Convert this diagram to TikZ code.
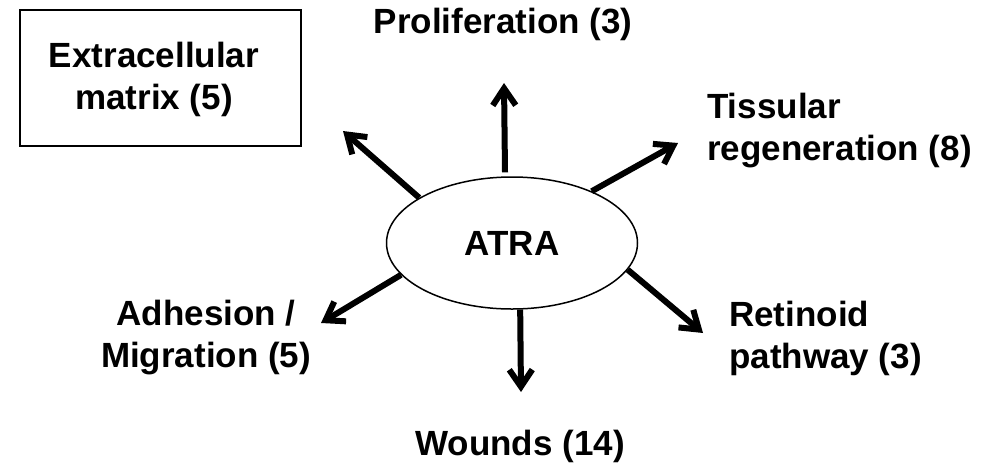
\documentclass[tikz,border=0pt]{standalone}
\usepackage{fontspec}
\setmainfont{Liberation Sans}
\usetikzlibrary{arrows.meta,shapes.geometric}

\tikzset{
  lbl/.style={font=\bfseries\fontsize{35}{42}\selectfont,inner sep=0pt},
  arr/.style={line width=6pt,-{Straight Barb[length=17pt,width=23pt]}}
}

\begin{document}
\begin{tikzpicture}[x=1pt,y=-1pt]
  \useasboundingbox (0,0) rectangle (990,464);
  % centre
  \node[lbl,draw,ellipse,line width=1.5pt,minimum width=251pt,minimum height=132pt] (atra) at (512,243) {ATRA};
  % labels
  \node[draw,line width=2pt,minimum width=281pt,minimum height=136pt] (ecm) at (160.5,78) {};
  \node[lbl,anchor=north,align=center] (ecmtxt) at (154,42) {Extracellular\\matrix (5)};
  \node[lbl,anchor=base] (prolif) at (503,33) {Proliferation (3)};
  \node[lbl,anchor=north west,align=left] (tissue) at (707,93) {Tissular\\regeneration (8)};
  \node[lbl,anchor=north,align=center] (adhes) at (206,300) {Adhesion /\\Migration (5)};
  \node[lbl,anchor=north west,align=left] (retin) at (729,301) {Retinoid\\pathway (3)};
  \node[lbl,anchor=base] (wound) at (520,455) {Wounds (14)};
  % arrow tips
  \coordinate (tUp) at (504,83);
  \coordinate (tUL) at (343,131);
  \coordinate (tUR) at (678,143);
  \coordinate (tLL) at (321,323);
  \coordinate (tLR) at (703,333);
  \coordinate (tDn) at (521,392);
  % arrows
  \draw[arr] (atra.96) ++(0,-4) -- (tUp);
  \draw[arr] (atra.154.7) -- (tUL);
  \draw[arr] (atra.33) -- (tUR);
  \draw[arr] (atra.196.2) -- (tLL);
  \draw[arr] (atra.347.8) -- (tLR);
  \draw[arr] (atra.277.5) -- (tDn);
\end{tikzpicture}
\end{document}
